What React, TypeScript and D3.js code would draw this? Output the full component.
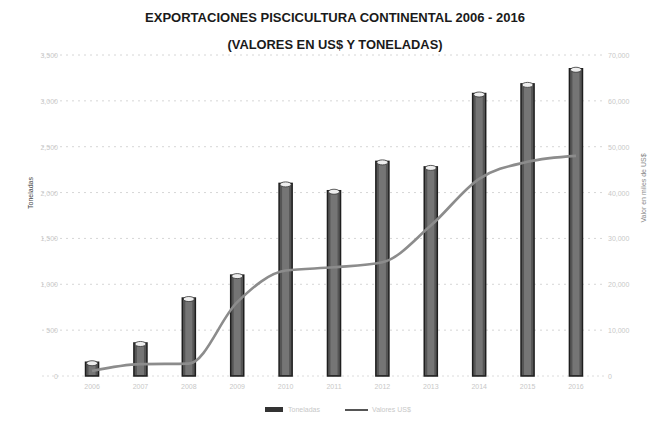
import React from "react";
import * as d3 from "d3";

// datos (aprox.)
const years = ["2006", "2007", "2008", "2009", "2010", "2011", "2012", "2013", "2014", "2015", "2016"];
const toneladas = [150, 360, 850, 1100, 2100, 2020, 2340, 2280, 3080, 3185, 3350];
const valoresUS = [1100, 2600, 2700, 16100, 23000, 23700, 24800, 32800, 43000, 46700, 48000];
const leftTicks = [0, 500, 1000, 1500, 2000, 2500, 3000, 3500];
const rightTicks = [0, 10000, 20000, 30000, 40000, 50000, 60000, 70000];

const W = 654, H = 429;
const margin = { top: 55, right: 78, bottom: 53, left: 68 };

export default function App() {
  const x = d3.scaleBand().domain(years).range([71, 597]).paddingInner(0.73).paddingOuter(0.3);
  const y = d3.scaleLinear().domain([0, 3500]).range([H - margin.bottom, margin.top]);
  const y2 = d3.scaleLinear().domain([0, 70000]).range([H - margin.bottom, margin.top]);

  const line = d3.line<number>()
    .x((d, i) => x(years[i])! + x.bandwidth() / 2)
    .y(d => y2(d))
    .curve(d3.curveMonotoneX);

  const faint = "#c8c8c8";
  const gx0 = 42, gx1 = 606;

  return (
    <svg width={W} height={H} style={{ position: "absolute", left: 0, top: 0, background: "#fff" }}
      fontFamily="'Liberation Sans', Arial, sans-serif">
      <text x={335} y={22} textAnchor="middle" fontSize={13} fontWeight="bold" fill="#1a1a1a"
        textLength={380} lengthAdjust="spacingAndGlyphs">EXPORTACIONES PISCICULTURA CONTINENTAL 2006 - 2016</text>
      <text x={335} y={49} textAnchor="middle" fontSize={13} fontWeight="bold" fill="#1a1a1a"
        textLength={215} lengthAdjust="spacingAndGlyphs">(VALORES EN US$ Y TONELADAS)</text>

      {/* rejilla */}
      {leftTicks.slice(1).map(t => (
        <line key={t} x1={gx0} x2={gx1} y1={y(t)} y2={y(t)}
          stroke="#d6d6d6" strokeDasharray="2,4" />
      ))}
      <line x1={gx0} x2={gx1} y1={y(0)} y2={y(0)} stroke="#dcdcdc" strokeDasharray="2,3" />

      {/* eje izq */}
      {leftTicks.map(t => (
        <text key={t} x={58} y={y(t) + 3} textAnchor="end" fontSize={7} fill={faint}>
          {d3.format(",")(t)}
        </text>
      ))}
      {/* eje der */}
      {rightTicks.map(t => (
        <text key={t} x={608} y={y2(t) + 3} textAnchor="start" fontSize={7} fill={faint}>
          {d3.format(",")(t)}
        </text>
      ))}
      <text transform={`translate(33,193) rotate(-90)`}
        textAnchor="middle" fontSize={7} fill="#444">Toneladas</text>
      <text transform={`translate(646,188) rotate(-90)`}
        textAnchor="middle" fontSize={7} fill="#888">Valor en miles de US$</text>

      {/* barras */}
      {toneladas.map((v, i) => {
        const bx = x(years[i])!;
        const bw = x.bandwidth();
        return (
          <g key={years[i]}>
            <rect x={bx} y={y(v)} width={bw} height={y(0) - y(v)} fill="#555" stroke="#1e1e1e" strokeWidth={1.5} />
            <rect x={bx + 3} y={y(v) + 3} width={bw - 6} height={y(0) - y(v) - 4} fill="#8a8a8a" opacity={0.6} />
            <ellipse cx={bx + bw / 2} cy={y(v) + 1} rx={bw / 2 - 1} ry={2.5} fill="#eee" stroke="#333" strokeWidth={0.8} />
          </g>
        );
      })}

      {/* linea */}
      <path d={line(valoresUS)!} fill="none" stroke="#8c8c8c" strokeWidth={2.6} />

      {/* etiquetas x */}
      {years.map(yr => (
        <text key={yr} x={x(yr)! + x.bandwidth() / 2} y={389} textAnchor="middle"
          fontSize={7} fill={faint}>{yr}</text>
      ))}

      {/* leyenda */}
      <rect x={265} y={407} width={18} height={5} fill="#333" />
      <text x={288} y={412} fontSize={7} fill={faint}>Toneladas</text>
      <line x1={345} x2={368} y1={410} y2={410} stroke="#555" strokeWidth={2} />
      <text x={372} y={412} fontSize={7} fill={faint}>Valores US$</text>
    </svg>
  );
}
